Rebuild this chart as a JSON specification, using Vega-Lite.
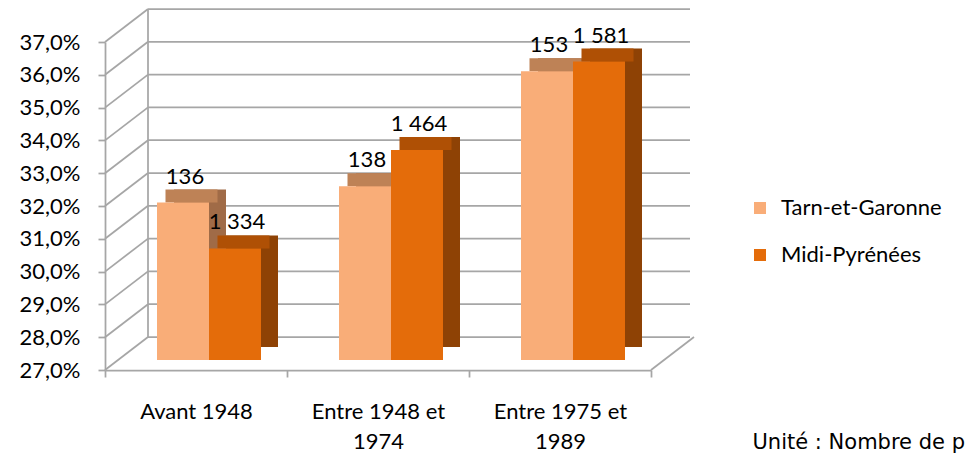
{
  "$schema": "https://vega.github.io/schema/vega-lite/v6.json",
  "width": 546,
  "height": 328,
  "autosize": {"type": "none"},
  "padding": {"left": 105, "top": 42, "right": 320, "bottom": 83},
  "config": {
    "view": {"stroke": null},
    "font": "Lato",
    "axis": {
      "grid": false,
      "domainColor": "#A6A6A6",
      "domainWidth": 1.75,
      "tickColor": "#A6A6A6",
      "tickWidth": 1.75,
      "tickSize": 7,
      "labelFont": "Lato",
      "labelFontSize": 22,
      "labelColor": "#000000"
    },
    "axisY": {"labelPadding": 18, "labelOverlap": false, "tickCount": 11},
    "axisX": {"labelPadding": 24, "labelAngle": 0, "labelLineHeight": 30, "labelBaseline": "top", "tickBand": "extent", "labelLimit": 300}
  },
  "datasets": {
    "bars": [
      {"periode": "Avant 1948", "serie": "Tarn-et-Garonne", "part": 31.8, "effectif": "136"},
      {"periode": "Avant 1948", "serie": "Midi-Pyrénées", "part": 30.4, "effectif": "1 334"},
      {"periode": "Entre 1948 et|1974", "serie": "Tarn-et-Garonne", "part": 32.3, "effectif": "138"},
      {"periode": "Entre 1948 et|1974", "serie": "Midi-Pyrénées", "part": 33.4, "effectif": "1 464"},
      {"periode": "Entre 1975 et|1989", "serie": "Tarn-et-Garonne", "part": 35.8, "effectif": "153"},
      {"periode": "Entre 1975 et|1989", "serie": "Midi-Pyrénées", "part": 36.1, "effectif": "1 581"}
    ],
    "grille": [
      {"v": 27}, {"v": 28}, {"v": 29}, {"v": 30}, {"v": 31}, {"v": 32},
      {"v": 33}, {"v": 34}, {"v": 35}, {"v": 36}, {"v": 37}
    ]
  },
  "resolve": {"scale": {"x": "independent", "xOffset": "independent"}, "axis": {"x": "independent"}},
  "layer": [
    {
      "data": {"name": "grille"},
      "mark": {"type": "rule", "color": "#A6A6A6", "strokeWidth": 1.75, "yOffset": -33},
      "encoding": {
        "x": {"datum": "Avant 1948", "bandPosition": 0, "axis": null,
              "scale": {"domain": ["Avant 1948", "Entre 1948 et|1974", "Entre 1975 et|1989"], "range": [43, 585], "paddingInner": 0, "paddingOuter": 0}},
        "x2": {"datum": "Entre 1975 et|1989", "bandPosition": 1},
        "y": {
          "field": "v",
          "type": "quantitative",
          "title": null,
          "scale": {"domain": [27, 37], "zero": false, "nice": false},
          "axis": {
            "values": [27, 28, 29, 30, 31, 32, 33, 34, 35, 36, 37],
            "labelOverlap": false,
            "labelExpr": "replace(format(datum.value, '.1f'), '.', ',') + '%'"
          }
        }
      }
    },
    {
      "data": {"name": "grille"},
      "mark": {"type": "rule", "color": "#A6A6A6", "strokeWidth": 1.75, "x2Offset": 43, "y2Offset": -33},
      "encoding": {
        "x": {
          "datum": "Avant 1948",
          "bandPosition": 0,
          "scale": {"domain": ["Avant 1948", "Entre 1948 et|1974", "Entre 1975 et|1989"], "paddingInner": 0, "paddingOuter": 0},
          "axis": {
            "title": "Unité : Nombre de p",
            "labelExpr": "split(datum.label, '|')",
            "titleX": 647,
            "titleY": 78,
            "titleAlign": "left",
            "titleBaseline": "alphabetic",
            "titleFont": "DejaVu Sans",
            "titleFontSize": 21,
            "titleFontWeight": "normal",
            "titleColor": "#000000"
          }
        },
        "x2": {"datum": "Avant 1948", "bandPosition": 0},
        "y": {"field": "v", "type": "quantitative", "title": null},
        "y2": {"field": "v"}
      }
    },
    {
      "data": {"values": [{}]},
      "mark": {"type": "rule", "color": "#A6A6A6", "strokeWidth": 1.75, "yOffset": -33, "y2Offset": -33},
      "encoding": {
        "x": {"datum": "Avant 1948", "bandPosition": 0, "axis": null,
              "scale": {"domain": ["Avant 1948", "Entre 1948 et|1974", "Entre 1975 et|1989"], "range": [43, 585], "paddingInner": 0, "paddingOuter": 0}},
        "y": {"datum": 27, "type": "quantitative", "title": null},
        "y2": {"datum": 37}
      }
    },
    {
      "data": {"values": [{}]},
      "mark": {"type": "rule", "color": "#A6A6A6", "strokeWidth": 1.75, "x2Offset": 43, "y2Offset": -33},
      "encoding": {
        "x": {"datum": "Entre 1975 et|1989", "bandPosition": 1, "axis": null,
              "scale": {"domain": ["Avant 1948", "Entre 1948 et|1974", "Entre 1975 et|1989"], "paddingInner": 0, "paddingOuter": 0}},
        "x2": {"datum": "Entre 1975 et|1989", "bandPosition": 1},
        "y": {"datum": 27, "type": "quantitative", "title": null},
        "y2": {"datum": 27}
      }
    },
    {
      "data": {"name": "bars"},
      "mark": {"type": "bar", "yOffset": -23, "y2Offset": -23},
      "encoding": {
        "x": {
          "field": "periode",
          "type": "nominal",
          "axis": null,
          "scale": {"domain": ["Avant 1948", "Entre 1948 et|1974", "Entre 1975 et|1989"], "range": [30, 576], "paddingInner": 0.4286, "paddingOuter": 0.2143}
        },
        "xOffset": {"field": "serie", "type": "nominal", "scale": {"domain": ["Tarn-et-Garonne", "Midi-Pyrénées"], "paddingInner": 0, "paddingOuter": 0}},
        "y": {"field": "part", "type": "quantitative", "title": null},
        "y2": {"datum": 27},
        "color": {"condition": {"test": "datum.serie === 'Tarn-et-Garonne'", "value": "#A06B47"}, "value": "#8E4205"}
      }
    },
    {
      "data": {"name": "bars"},
      "mark": {"type": "bar", "yOffset": -23, "y2Offset": -10},
      "encoding": {
        "x": {
          "field": "periode",
          "type": "nominal",
          "axis": null,
          "scale": {"domain": ["Avant 1948", "Entre 1948 et|1974", "Entre 1975 et|1989"], "range": [21.5, 567.5], "paddingInner": 0.4286, "paddingOuter": 0.2143}
        },
        "xOffset": {"field": "serie", "type": "nominal", "scale": {"domain": ["Tarn-et-Garonne", "Midi-Pyrénées"], "paddingInner": 0, "paddingOuter": 0}},
        "y": {"field": "part", "type": "quantitative", "title": null},
        "y2": {"field": "part"},
        "color": {"condition": {"test": "datum.serie === 'Tarn-et-Garonne'", "value": "#BE8256"}, "value": "#AF5005"}
      }
    },
    {
      "data": {"name": "bars"},
      "mark": {"type": "bar", "yOffset": -10, "y2Offset": -10},
      "encoding": {
        "x": {
          "field": "periode",
          "type": "nominal",
          "axis": null,
          "scale": {"domain": ["Avant 1948", "Entre 1948 et|1974", "Entre 1975 et|1989"], "range": [13, 559], "paddingInner": 0.4286, "paddingOuter": 0.2143}
        },
        "xOffset": {"field": "serie", "type": "nominal", "scale": {"domain": ["Tarn-et-Garonne", "Midi-Pyrénées"], "paddingInner": 0, "paddingOuter": 0}},
        "y": {"field": "part", "type": "quantitative", "title": null},
        "y2": {"datum": 27},
        "color": {
          "field": "serie",
          "type": "nominal",
          "scale": {"domain": ["Tarn-et-Garonne", "Midi-Pyrénées"], "range": ["#F9AD78", "#E46C0A"]},
          "legend": {
            "orient": "none",
            "legendX": 644,
            "legendY": 155,
            "title": null,
            "symbolType": "square",
            "symbolSize": 144,
            "symbolStrokeWidth": 0,
            "labelFont": "Lato",
            "labelFontSize": 22,
            "labelColor": "#000000",
            "labelOffset": 10,
            "labelLimit": 300,
            "rowPadding": 25
          }
        }
      }
    },
    {
      "data": {"name": "bars"},
      "mark": {"type": "text", "font": "Lato", "fontSize": 22, "color": "#000000", "dx": 15, "dy": -29, "baseline": "alphabetic"},
      "encoding": {
        "x": {
          "field": "periode",
          "type": "nominal",
          "axis": null,
          "scale": {"domain": ["Avant 1948", "Entre 1948 et|1974", "Entre 1975 et|1989"], "paddingInner": 0.4286, "paddingOuter": 0.2143}
        },
        "xOffset": {"field": "serie", "type": "nominal", "scale": {"domain": ["Tarn-et-Garonne", "Midi-Pyrénées"], "padding": 0.5}},
        "y": {
          "field": "part",
          "type": "quantitative",
          "title": null,
          "axis": {
            "values": [27, 28, 29, 30, 31, 32, 33, 34, 35, 36, 37],
            "labelOverlap": false,
            "labelExpr": "replace(format(datum.value, '.1f'), '.', ',') + '%'"
          }
        },
        "text": {"field": "effectif", "type": "nominal"}
      }
    }
  ]
}
